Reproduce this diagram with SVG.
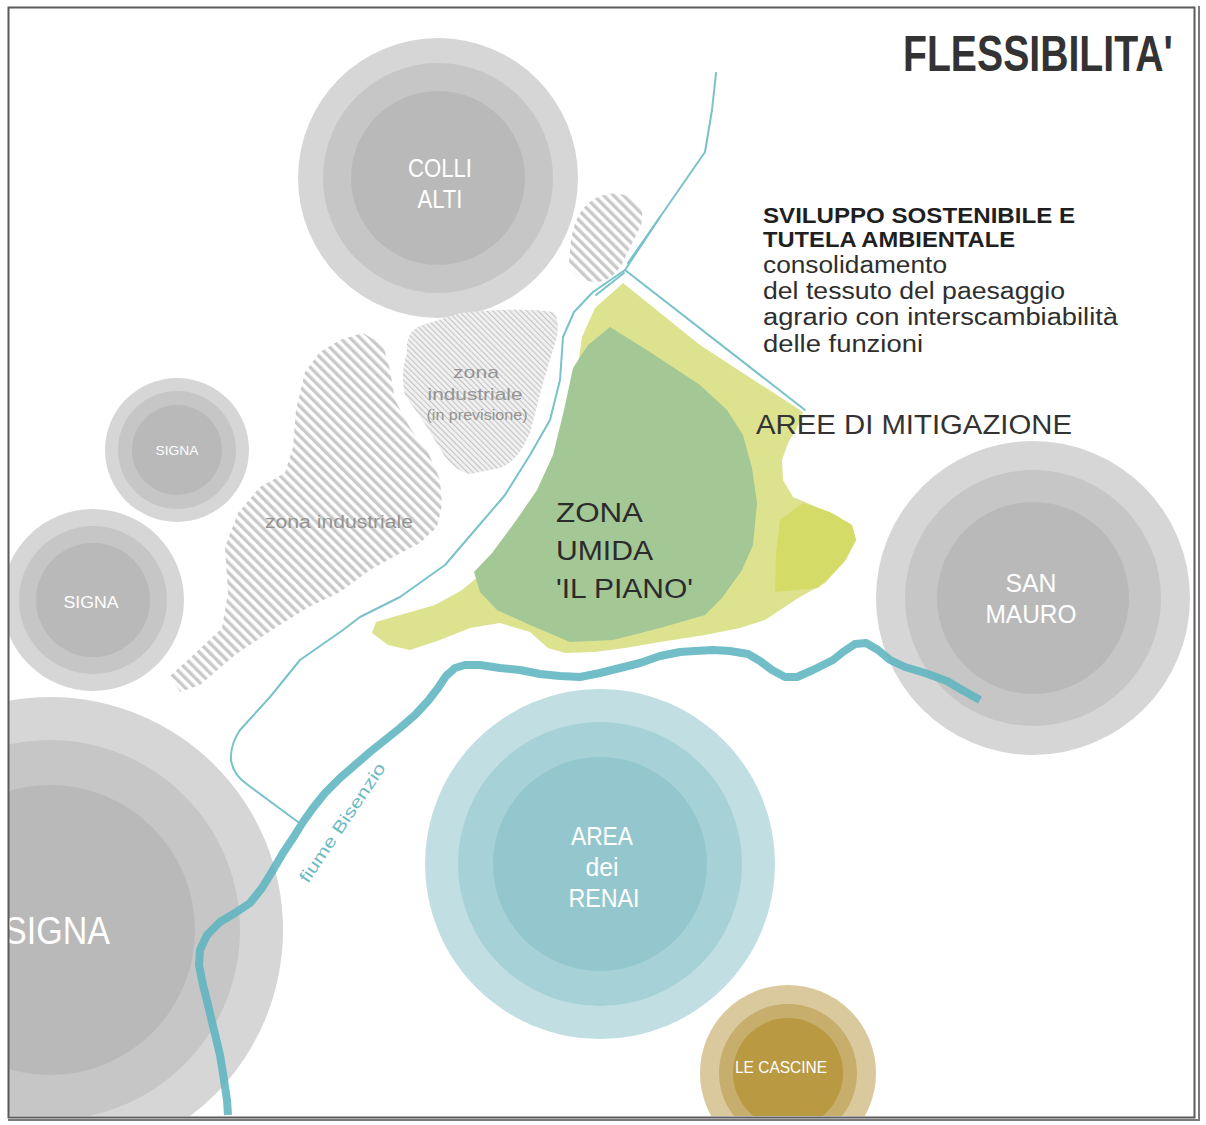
<svg xmlns="http://www.w3.org/2000/svg" width="1206" height="1125" viewBox="0 0 1206 1125">
<style>
.t{font-family:"Liberation Sans",Arial,sans-serif}
.w{fill:#ffffff;text-anchor:middle}
.dk{fill:#2b2b2b}
.gr{fill:#949494;text-anchor:middle}
.c1{fill:#d6d6d6}.c2{fill:#c6c6c6}.c3{fill:#b9b9b9}
.canal{fill:none;stroke:#79c2ca;stroke-width:2;stroke-linejoin:round;stroke-linecap:round}
</style>
<defs>
<pattern id="hatch" width="7" height="7" patternUnits="userSpaceOnUse" patternTransform="rotate(-45)">
<rect x="0" y="0" width="3.4" height="7" fill="#c9c9c9"/>
</pattern>
<pattern id="hatchFine" width="4" height="4" patternUnits="userSpaceOnUse" patternTransform="rotate(-45)">
<rect x="0" y="0" width="4" height="4" fill="#f1f1f1"/>
<rect x="0" y="0" width="1.1" height="4" fill="#c4c4c4"/>
</pattern>
<clipPath id="frame"><rect x="9" y="8" width="1185" height="1108"/></clipPath>
</defs>
<rect width="1206" height="1125" fill="#ffffff"/>

<g clip-path="url(#frame)">
<g id="colli-alti">
<circle class="c1" cx="438" cy="178" r="140"/>
<circle class="c2" cx="438" cy="178" r="115"/>
<circle class="c3" cx="438" cy="178" r="87"/>
<text class="t w" x="440" y="177" font-size="26" textLength="64" lengthAdjust="spacingAndGlyphs">COLLI</text>
<text class="t w" x="440" y="208" font-size="26" textLength="45" lengthAdjust="spacingAndGlyphs">ALTI</text>
</g>
<g id="signa-small">
<circle class="c1" cx="177" cy="450" r="72"/>
<circle class="c2" cx="177" cy="450" r="59"/>
<circle class="c3" cx="177" cy="450" r="45"/>
<text class="t w" x="177" y="455" font-size="13" textLength="43" lengthAdjust="spacingAndGlyphs">SIGNA</text>
</g>
<g id="signa-medium">
<circle class="c1" cx="93" cy="600" r="91"/>
<circle class="c2" cx="93" cy="600" r="74"/>
<circle class="c3" cx="93" cy="600" r="57"/>
<text class="t w" x="91" y="608" font-size="16" textLength="55" lengthAdjust="spacingAndGlyphs">SIGNA</text>
</g>
<g id="signa-large">
<circle class="c1" cx="50" cy="930" r="233"/>
<circle class="c2" cx="50" cy="930" r="190"/>
<circle class="c3" cx="50" cy="930" r="145"/>
<text class="t" x="4" y="944" font-size="39" fill="#ffffff" textLength="106" lengthAdjust="spacingAndGlyphs">SIGNA</text>
</g>
<g id="san-mauro">
<circle class="c1" cx="1033" cy="598" r="157"/>
<circle class="c2" cx="1033" cy="598" r="128"/>
<circle class="c3" cx="1033" cy="598" r="96"/>
<text class="t w" x="1031" y="592" font-size="26" textLength="51" lengthAdjust="spacingAndGlyphs">SAN</text>
<text class="t w" x="1031" y="623" font-size="26" textLength="91" lengthAdjust="spacingAndGlyphs">MAURO</text>
</g>
<g id="area-renai">
<circle cx="600" cy="864" r="175" fill="#c1dfe3"/>
<circle cx="600" cy="864" r="142" fill="#a5d1d7"/>
<circle cx="600" cy="864" r="107" fill="#93c7cd"/>
<text class="t w" x="602" y="845" font-size="26" textLength="62" lengthAdjust="spacingAndGlyphs">AREA</text>
<text class="t w" x="602" y="876" font-size="26" textLength="33" lengthAdjust="spacingAndGlyphs">dei</text>
<text class="t w" x="604" y="907" font-size="26" textLength="71" lengthAdjust="spacingAndGlyphs">RENAI</text>
</g>
<g id="le-cascine">
<circle cx="788" cy="1073" r="88" fill="#d9c99d"/>
<circle cx="788" cy="1073" r="69" fill="#c7ae6c"/>
<circle cx="788" cy="1073" r="55" fill="#b99941"/>
<text class="t w" x="781" y="1073" font-size="16" textLength="92" lengthAdjust="spacingAndGlyphs">LE CASCINE</text>
</g>
</g>

<g id="zona-industriale">
<path fill="url(#hatch)" d="M180,692 L170,676 L190,658 L222,628 L228,593 L225,547 L238,513 L260,487 L285,473 L293,447 L296,410 L305,372 L320,352 L340,340 L363,333 L383,345 L390,370 L395,400 L410,428 L428,452 L440,480 L442,505 L437,527 L420,543 L395,556 L370,570 L340,592 L307,608 L275,628 L235,655 L200,685 Z"/>
<text class="t gr" x="339" y="528" font-size="18" textLength="148" lengthAdjust="spacingAndGlyphs">zona industriale</text>
</g>
<g id="zona-industriale-previsione">
<path fill="url(#hatchFine)" d="M407,353 Q405,330 423,325 L460,313 Q520,307 553,312 Q561,320 556,340 L543,383 L530,433 Q518,462 500,468 L470,474 Q455,471 445,457 L427,427 L405,395 Q400,375 407,353 Z"/>
<text class="t gr" x="476" y="378" font-size="17" textLength="46" lengthAdjust="spacingAndGlyphs">zona</text>
<text class="t gr" x="475" y="400" font-size="17" textLength="95" lengthAdjust="spacingAndGlyphs">industriale</text>
<text class="t gr" x="477" y="420" font-size="14" textLength="101" lengthAdjust="spacingAndGlyphs">(in previsione)</text>
</g>
<g id="area-tratteggiata">
<path fill="url(#hatch)" d="M571,240 Q576,207 598,197 Q617,189 633,199 Q646,209 641,225 L623,262 Q612,283 594,282 Q575,280 569,262 Z"/>
</g>

<g id="zona-umida">
<path fill="#dde28f" d="M623,283 L700,345 L803,412 L797,428 L788,443 L782,460 L783,480 L793,497 L812,505 L835,515 L852,525 L856,540 L846,560 L825,583 L800,597 L765,620 L740,628 L705,635 L660,642 L625,648 L595,652 L565,653 L548,648 L530,632 L500,623 L470,628 L440,640 L410,650 L388,645 L372,633 L376,622 L400,615 L435,605 L462,590 L480,575 L500,550 L520,520 L540,490 L555,460 L566,430 L573,400 L578,365 L582,337 L595,308 Z"/>
<path fill="#d4db66" d="M780,520 L803,503 L830,512 L852,525 L856,540 L843,563 L818,588 L775,592 L776,555 Z"/>
<path fill="#a4c796" d="M610,327 L650,352 L700,385 L727,410 L743,435 L752,468 L757,503 L753,545 L742,570 L722,598 L705,615 L660,628 L613,640 L570,642 L530,625 L497,610 L480,592 L474,572 L492,553 L515,522 L537,490 L553,455 L564,410 L573,368 L588,345 Z"/>
<text class="t dk" x="556" y="522" font-size="27" textLength="87" lengthAdjust="spacingAndGlyphs">ZONA</text>
<text class="t dk" x="556" y="560" font-size="27" textLength="97" lengthAdjust="spacingAndGlyphs">UMIDA</text>
<text class="t dk" x="556" y="598" font-size="27" textLength="137" lengthAdjust="spacingAndGlyphs">'IL PIANO'</text>
</g>

<g id="connectors">
<path class="canal" d="M716,73 L712,110 L705,152 L660,217 L625,270 L593,292 L574,312 L563,337 L560,380 L550,420 L530,455 L505,495 L475,530 L445,565 L400,597 L360,617 L343,630 L300,660 L270,697 L240,730 Q230,745 231,760 Q233,775 248,785 L298,822"/>
<path class="canal" stroke-width="4" d="M660,217 L628,263"/>
<path class="canal" stroke-width="4" d="M624,273 L596,295"/>
<path class="canal" stroke-width="3" d="M625,270 L805,410"/>
<path fill="none" stroke="#5db5c0" stroke-opacity="0.88" stroke-width="8" stroke-linejoin="round" stroke-linecap="butt" d="M980,700 L962,690 L947,681 L925,673 L905,667 L890,660 L878,650 L866,643 L855,644 L843,652 L833,660 L813,670 L797,677 L785,677 L772,670 L760,661 L748,654 L730,651 L713,650 L695,651 L680,652 L660,656 L640,663 L620,668 L600,673 L580,677 L560,676 L540,674 L520,670 L500,668 L480,665 L465,665 L455,668 L446,676 L438,688 L428,701 L415,715 L400,728 L385,740 L370,752 L355,765 L340,778 L325,793 L313,808 L303,822 L293,838 L283,853 L273,870 L262,888 L250,903 L235,913 L220,922 L207,935 L200,950 L199,965 L203,985 L208,1005 L214,1030 L220,1055 L224,1080 L227,1100 L228,1115"/>
<text class="t" fill="#6dbac4" font-size="17" transform="translate(308,884) rotate(-56)" textLength="140" lengthAdjust="spacingAndGlyphs">fiume Bisenzio</text>
</g>

<g id="testi">
<text class="t" font-size="40" font-weight="bold" fill="#333333" transform="translate(903,71) scale(0.98,1.25)">FLESSIBILITA'</text>
<text class="t" x="763" y="223" font-size="22" font-weight="bold" fill="#1f1f1f" textLength="312" lengthAdjust="spacingAndGlyphs">SVILUPPO SOSTENIBILE E</text>
<text class="t" x="763" y="247" font-size="22" font-weight="bold" fill="#1f1f1f" textLength="252" lengthAdjust="spacingAndGlyphs">TUTELA AMBIENTALE</text>
<text class="t" x="763" y="273" font-size="23" fill="#2e2e2e" textLength="184" lengthAdjust="spacingAndGlyphs">consolidamento</text>
<text class="t" x="763" y="299" font-size="23" fill="#2e2e2e" textLength="302" lengthAdjust="spacingAndGlyphs">del tessuto del paesaggio</text>
<text class="t" x="763" y="325" font-size="23" fill="#2e2e2e" textLength="355" lengthAdjust="spacingAndGlyphs">agrario con interscambiabilità</text>
<text class="t" x="763" y="352" font-size="23" fill="#2e2e2e" textLength="160" lengthAdjust="spacingAndGlyphs">delle funzioni</text>
<text class="t" x="756" y="434" font-size="27" fill="#333333" textLength="316" lengthAdjust="spacingAndGlyphs">AREE DI MITIGAZIONE</text>
</g>

<g id="cornice" fill="none">
<rect x="8.5" y="7.5" width="1186" height="1110" stroke="#5a5a5a" stroke-width="2"/>
<line x1="1199" y1="6" x2="1199" y2="1121" stroke="#7a7a7a" stroke-width="2"/>
<line x1="8" y1="1120" x2="1200" y2="1120" stroke="#7a7a7a" stroke-width="2"/>
</g>
</svg>
